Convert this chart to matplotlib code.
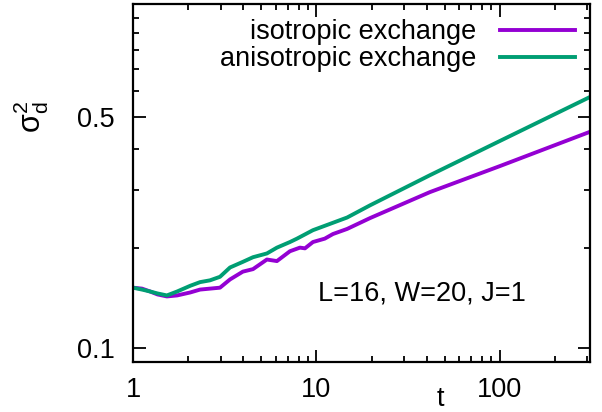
import matplotlib
matplotlib.use('Agg')
import matplotlib.pyplot as plt
from matplotlib.ticker import FixedLocator, NullFormatter, LogLocator

plt.rcParams['font.family'] = ['Liberation Sans', 'DejaVu Sans']
plt.rcParams['mathtext.fontset'] = 'custom'
plt.rcParams['mathtext.rm'] = 'Liberation Sans'
plt.rcParams['mathtext.it'] = 'Liberation Sans'
plt.rcParams['mathtext.default'] = 'regular'

# values
t_iso = [1.0, 1.12, 1.24, 1.36, 1.53, 1.74, 2.05, 2.32, 2.63, 2.98, 3.38, 3.97, 4.51,
         5.37, 6.09, 7.17, 8.13, 8.66, 9.57, 11.1, 12.3, 14.7, 19.6, 41.5, 100, 310]
s_iso = [0.152, 0.151, 0.148, 0.145, 0.143, 0.144, 0.147, 0.150, 0.151, 0.152, 0.161,
         0.170, 0.173, 0.185, 0.183, 0.196, 0.201, 0.200, 0.209, 0.214, 0.221, 0.229,
         0.247, 0.296, 0.355, 0.451]

t_aniso = [1.0, 1.12, 1.24, 1.36, 1.53, 1.74, 2.05, 2.32, 2.63, 2.98, 3.38, 3.97, 4.51,
           5.37, 6.09, 7.17, 7.83, 9.57, 11.8, 14.7, 19.6, 41.5, 100, 310]
s_aniso = [0.152, 0.150, 0.148, 0.146, 0.144, 0.148, 0.154, 0.158, 0.160, 0.164, 0.175,
           0.182, 0.188, 0.193, 0.201, 0.209, 0.214, 0.227, 0.237, 0.248, 0.270, 0.333,
           0.423, 0.575]

labels = ['isotropic exchange', 'anisotropic exchange']
colors = ['#9400D3', '#009E73']
y_major = [0.1, 0.5]
x_major = [1, 10, 100]

fig = plt.figure(figsize=(6.02, 4.12), dpi=100)
ax = fig.add_axes([133/602, 1 - 362/412, 457/602, 358/412])

ax.plot(t_iso, s_iso, color=colors[0], lw=2.8, label=labels[0])
ax.plot(t_aniso, s_aniso, color=colors[1], lw=2.8, label=labels[1])

ax.set_xscale('log')
ax.set_yscale('log')
ax.set_xlim(1, 310)
ax.set_ylim(0.0905, 1.1)

ax.xaxis.set_major_locator(FixedLocator(x_major))
ax.xaxis.set_major_formatter(plt.FixedFormatter(['1', '10', '100']))
ax.xaxis.set_minor_locator(LogLocator(base=10, subs=range(2, 10)))
ax.xaxis.set_minor_formatter(NullFormatter())
ax.yaxis.set_major_locator(FixedLocator(y_major))
ax.yaxis.set_major_formatter(plt.FixedFormatter(['0.1', '0.5']))
ax.yaxis.set_minor_locator(FixedLocator([0.2, 0.3, 0.4, 0.6, 0.7, 0.8, 0.9, 1.0]))
ax.yaxis.set_minor_formatter(NullFormatter())

fs = 19.5
ax.tick_params(which='both', direction='in', top=True, right=True, width=1.3,
               labelsize=fs)
ax.tick_params(which='major', length=9)
ax.tick_params(which='minor', length=4.5)
ax.tick_params(axis='y', which='major', pad=13)
ax.tick_params(axis='x', which='major', pad=11)
for sp in ax.spines.values():
    sp.set_linewidth(1.6)

ax.set_xlabel('t', fontsize=fs)
ax.xaxis.set_label_coords(0.672, -0.068)
ax.set_ylabel(r'$\sigma_d^2$', fontsize=22)
ax.yaxis.set_label_coords(-0.18, 0.685)

ax.text(0.405, 0.173, 'L=16, W=20, J=1', transform=ax.transAxes,
        fontsize=fs, va='baseline', ha='left')

ax.legend(loc='upper right', bbox_to_anchor=(0.967, 0.958), frameon=False,
          markerfirst=False, fontsize=fs, handlelength=2.75, handletextpad=0.9,
          labelspacing=0.05, borderpad=0, borderaxespad=0)

fig.savefig('out.png', dpi=100)
